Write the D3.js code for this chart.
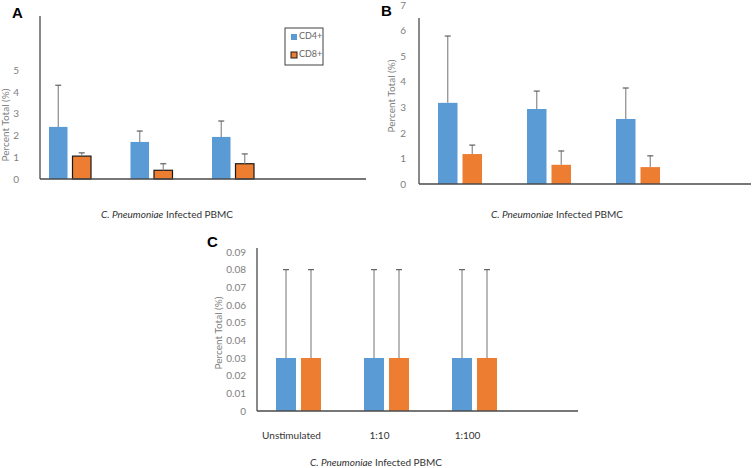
<!DOCTYPE html>
<html>
<head>
<meta charset="utf-8">
<script src="https://cdn.jsdelivr.net/npm/d3@7"></script>
<style>
  html, body { margin: 0; padding: 0; background: #fff; }
  svg { display: block; }
  text { font-family: Lato, "Open Sans", sans-serif; }
</style>
</head>
<body>
<svg id="chart" width="753" height="468"></svg>
<script>
// ---------------- DATA ----------------
const categories = ["Unstimulated", "1:10", "1:100", ""];
const seriesNames = ["CD4+", "CD8+"];
const xTitle = "Infected PBMC";
const xTitleItalic = "C. Pneumoniae";
const yTitle = "Percent Total (%)";

// Panel A
const aCD4 = [2.39, 1.70, 1.93];
const aCD4Err = [1.91, 0.50, 0.73];
const aCD8 = [1.05, 0.40, 0.70];
const aCD8Err = [0.15, 0.30, 0.45];
const aTicks = [0, 1, 2, 3, 4, 5];

// Panel B
const bCD4 = [3.17, 2.93, 2.54];
const bCD4Err = [2.61, 0.70, 1.21];
const bCD8 = [1.17, 0.75, 0.66];
const bCD8Err = [0.35, 0.54, 0.44];
const bTicks = [0, 1, 2, 3, 4, 5, 6, 7];

// Panel C
const cCD4 = [0.03, 0.03, 0.03];
const cCD4Err = [0.05, 0.05, 0.05];
const cCD8 = [0.03, 0.03, 0.03];
const cCD8Err = [0.05, 0.05, 0.05];
const cTicks = [0, 0.01, 0.02, 0.03, 0.04, 0.05, 0.06, 0.07, 0.08, 0.09];

// ---------------- STYLE ----------------
const colors = { "CD4+": "#5b9bd5", "CD8+": "#ed7d31" };
const errColor = "#8a8a8a";
const axisColor = "#4a4a4a";
const tickColor = "#808080";

const svg = d3.select("#chart");

function panel(cfg) {
  const g = svg.append("g");
  const y = d3.scaleLinear().domain([0, cfg.yMax]).range([cfg.zeroY, cfg.zeroY - cfg.yMax * cfg.unit]);
  const start = cfg.firstCenter - cfg.step / 2;
  const x = d3.scaleBand().domain(categories).range([start, start + cfg.step * categories.length]).padding(0);
  const inner = d3.scaleBand().domain(seriesNames)
    .range([-(cfg.barW + cfg.gap / 2), cfg.barW + cfg.gap / 2])
    .paddingInner(cfg.gap / (cfg.barW + cfg.gap)).paddingOuter(0);

  // Y tick labels
  const yAxis = d3.axisLeft(y).tickValues(cfg.ticks).tickSize(0).tickPadding(cfg.tickPad)
    .tickFormat(cfg.fmt);
  const ya = g.append("g").attr("transform", `translate(${cfg.axisX0},0)`).call(yAxis);
  ya.select(".domain").remove();
  ya.selectAll("text").attr("fill", tickColor).style("font-size", "10px").style("font-family", "Lato, sans-serif");

  const rows = [];
  categories.forEach((c, i) => {
    cfg.series.forEach((s, k) => {
      if (i < s.vals.length) rows.push({ cat: c, name: seriesNames[k], v: s.vals[i], e: s.errs[i] });
    });
  });

  // bars
  g.selectAll("rect.bar").data(rows).enter().append("rect")
    .attr("class", "bar")
    .attr("x", d => x(d.cat) + x.bandwidth() / 2 + inner(d.name))
    .attr("width", inner.bandwidth())
    .attr("y", d => y(d.v))
    .attr("height", d => y(0) - y(d.v))
    .attr("fill", d => colors[d.name])
    .attr("stroke", d => (cfg.cd8Stroke && d.name === "CD8+") ? "#1a1a1a" : "none")
    .attr("stroke-width", 1.2);

  // error bars
  const eb = g.selectAll("g.err").data(rows).enter().append("g").attr("class", "err");
  eb.append("line")
    .attr("x1", d => x(d.cat) + x.bandwidth() / 2 + inner(d.name) + inner.bandwidth() / 2)
    .attr("x2", d => x(d.cat) + x.bandwidth() / 2 + inner(d.name) + inner.bandwidth() / 2)
    .attr("y1", d => y(d.v)).attr("y2", d => y(d.v + d.e))
    .attr("stroke", errColor).attr("stroke-width", 1.2);
  eb.append("line")
    .attr("x1", d => x(d.cat) + x.bandwidth() / 2 + inner(d.name) + inner.bandwidth() / 2 - 3)
    .attr("x2", d => x(d.cat) + x.bandwidth() / 2 + inner(d.name) + inner.bandwidth() / 2 + 3)
    .attr("y1", d => y(d.v + d.e)).attr("y2", d => y(d.v + d.e))
    .attr("stroke", "#606060").attr("stroke-width", 1.2);

  // axis lines
  g.append("line").attr("x1", cfg.axisX0).attr("x2", cfg.axisX0)
    .attr("y1", y(cfg.yLineTop)).attr("y2", y(0))
    .attr("stroke", axisColor).attr("stroke-width", 1.3);
  g.append("line").attr("x1", cfg.axisX0).attr("x2", cfg.axisX1)
    .attr("y1", y(0)).attr("y2", y(0))
    .attr("stroke", axisColor).attr("stroke-width", 1.5);

  // category labels
  if (cfg.showCats) {
    g.selectAll("text.cat").data(categories.filter(c => c !== "")).enter().append("text")
      .attr("class", "cat")
      .attr("x", d => x(d) + x.bandwidth() / 2 - 7)
      .attr("y", cfg.catY)
      .attr("text-anchor", "middle").attr("dominant-baseline", "middle")
      .attr("fill", "#333").style("font-size", "10px")
      .text(d => d);
  }

  // y title
  g.append("text")
    .attr("transform", `translate(${cfg.yTitleX},${cfg.yTitleY}) rotate(-90)`)
    .attr("text-anchor", "middle").attr("dominant-baseline", "middle")
    .attr("fill", "#808080").style("font-size", "10px")
    .text(yTitle);

  // x title
  const xt = g.append("text")
    .attr("x", cfg.xTitleX).attr("y", cfg.xTitleY)
    .attr("text-anchor", "middle").attr("dominant-baseline", "middle")
    .attr("fill", "#333").style("font-size", "10px");
  xt.append("tspan").style("font-style", "italic").text(xTitleItalic);
  xt.append("tspan").text(" " + xTitle);

  // panel letter
  g.append("text").attr("x", cfg.letterX).attr("y", cfg.letterY)
    .attr("fill", "#000").style("font-size", "15px").style("font-weight", "bold")
    .style("font-family", "Liberation Sans, Arial, sans-serif")
    .text(cfg.letter);

  return { g, x, y };
}

// Panel A
const pA = panel({
  letter: "A", letterX: 12, letterY: 18,
  series: [{ vals: aCD4, errs: aCD4Err }, { vals: aCD8, errs: aCD8Err }],
  ticks: aTicks, fmt: d3.format("d"), yMax: 7.5, yLineTop: 7.48,
  zeroY: 179, unit: 21.8, axisX0: 40, axisX1: 366, tickPad: 21,
  firstCenter: 70, step: 81.5, barW: 18.5, gap: 5, cd8Stroke: true,
  yTitleX: 6, yTitleY: 125, xTitleX: 167, xTitleY: 215, showCats: false
});

// Legend for A
const leg = pA.g.append("g");
leg.append("rect").attr("x", 285).attr("y", 28).attr("width", 38).attr("height", 37)
  .attr("fill", "#fff").attr("stroke", "#404040").attr("stroke-width", 1);
seriesNames.forEach((s, i) => {
  const yy = 37 + i * 18;
  leg.append("rect").attr("x", 291).attr("y", yy - 3).attr("width", 6).attr("height", 6)
    .attr("fill", colors[s])
    .attr("stroke", s === "CD8+" ? "#1a1a1a" : "none").attr("stroke-width", 1);
  leg.append("text").attr("x", 299).attr("y", yy).attr("dominant-baseline", "middle")
    .attr("fill", "#666").style("font-size", "9px").text(s);
});

// Panel B
panel({
  letter: "B", letterX: 381, letterY: 16,
  series: [{ vals: bCD4, errs: bCD4Err }, { vals: bCD8, errs: bCD8Err }],
  ticks: bTicks, fmt: d3.format("d"), yMax: 7, yLineTop: 6.48,
  zeroY: 184, unit: 25.6, axisX0: 419, axisX1: 751, tickPad: 13,
  firstCenter: 460, step: 89, barW: 19.5, gap: 5, cd8Stroke: false,
  yTitleX: 392, yTitleY: 96, xTitleX: 557, xTitleY: 215, showCats: false
});

// Panel C
panel({
  letter: "C", letterX: 207, letterY: 247,
  series: [{ vals: cCD4, errs: cCD4Err }, { vals: cCD8, errs: cCD8Err }],
  ticks: cTicks, fmt: d => d === 0 ? "0" : d3.format(".2f")(d), yMax: 0.0922, yLineTop: 0.0922,
  zeroY: 411, unit: 1767, axisX0: 257, axisX1: 578, tickPad: 11,
  firstCenter: 298.5, step: 88, barW: 20, gap: 5, cd8Stroke: false,
  yTitleX: 219, yTitleY: 333, xTitleX: 376, xTitleY: 463, showCats: true, catY: 436
});
</script>
</body>
</html>
